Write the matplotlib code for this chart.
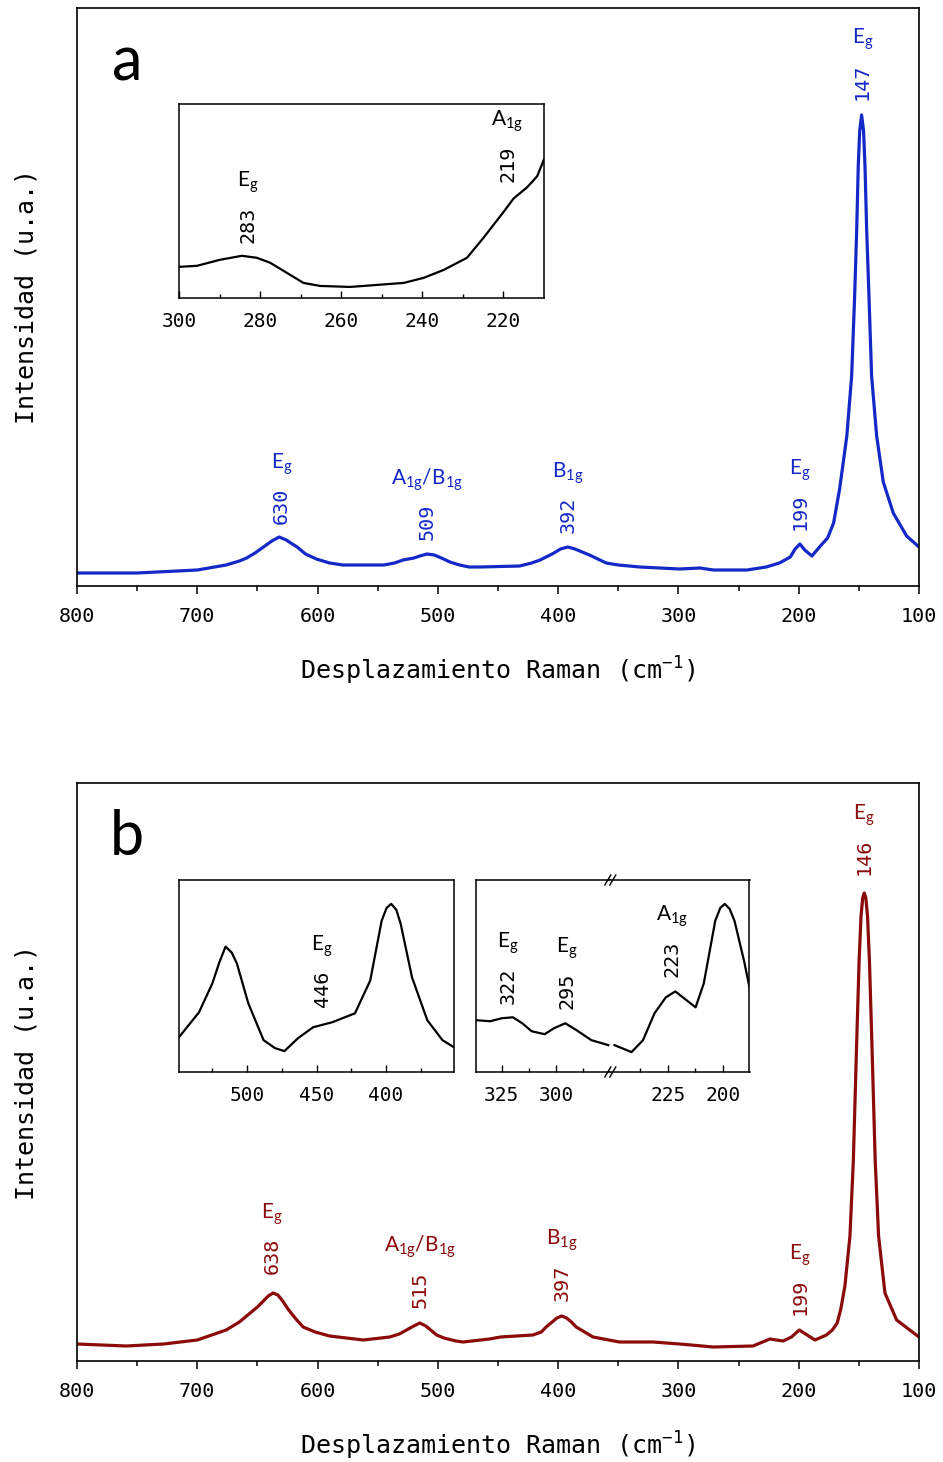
import numpy as np
import matplotlib
matplotlib.use("Agg")
import matplotlib.pyplot as plt
from matplotlib.lines import Line2D
from matplotlib.ticker import MultipleLocator, FixedLocator

BLUE = "#1428C8"
RED = "#8B0A0A"
MONO = "DejaVu Sans Mono"
SANS = "Lato"

# ---- panel a: main spectrum (Raman shift in cm-1, intensity in a.u.)
shift_a = [800, 750, 700, 676, 665, 659, 652, 645, 638, 632, 626, 621, 617, 610, 601,
           590, 579, 545, 536, 529, 520, 515, 509, 503, 497, 490, 482, 474, 465, 432,
           422, 415, 405, 398, 392, 386, 380, 374, 367, 360, 350, 332, 299, 282, 271,
           243, 227, 216, 207, 203, 199, 195, 189, 182, 176, 171, 166, 160, 156, 153.5,
           151.8, 150.5, 149.3, 147.7, 146.1, 144.9, 143.5, 141.6, 139.4, 135.2, 129.7,
           121.4, 110.3, 100]
int_a = [13, 13, 16, 21, 25, 28, 33, 39, 45, 49, 46, 42, 39, 32, 27,
         23, 21, 21, 23, 26, 28, 30, 32, 31, 28, 24, 21, 19, 19, 20,
         23, 26, 32, 37, 39, 37, 34, 31, 27, 23, 21, 19, 17, 18, 16,
         16, 19, 23, 29, 37, 42, 36, 30, 40, 48, 63, 97, 150, 210, 290,
         356, 420, 455, 471, 455, 420, 356, 290, 210, 150, 104,
         73, 50, 39]

# panel a inset (300-210 cm-1)
shift_a_in = [300, 295.6, 289.9, 284.5, 280.8, 277.5, 273.4, 269.3, 265.2, 257.8, 251.2,
              244.6, 239.7, 234.7, 229, 224.9, 219.9, 217.5, 214.2, 211.7, 210]
int_a_in = [31, 32, 38, 42, 40, 35, 25, 15, 12, 11, 13, 15, 20, 28, 40, 60, 86, 99, 110, 121, 138]

peaks_a = [630, 509, 392, 199, 147]
modes_a = [r"$\mathregular{E_g}$", r"$\mathregular{A_{1g}/B_{1g}}$", r"$\mathregular{B_{1g}}$",
           r"$\mathregular{E_g}$", r"$\mathregular{E_g}$"]
peaks_a_in = [283, 219]
modes_a_in = [r"$\mathregular{E_g}$", r"$\mathregular{A_{1g}}$"]

# ---- panel b: main spectrum
shift_b = [800, 759, 728, 700, 676, 665, 656, 650, 645, 641, 637, 633, 629, 624, 618,
           612, 602, 590, 562, 540, 532, 526, 520, 515, 510, 505, 501, 495, 485, 479,
           457, 448, 421, 414, 410, 405, 401, 397, 393, 389, 385, 378, 371, 349, 321,
           299, 271, 238, 224, 213, 206, 199.5, 193, 186.5, 177, 172, 168, 165, 161.6,
           157.4, 154.6, 151.9, 149.8, 148.2, 146.8, 145.5, 144.2, 142.8, 141.2, 139.1,
           136.4, 133.6, 128.3, 118.6, 100]
int_b = [17, 15, 17, 21, 31, 39, 48, 54, 60, 65, 68, 66, 60, 51, 42,
         34, 29, 25, 21, 24, 27, 31, 35, 38, 35, 30, 26, 23, 20, 19,
         22, 24, 26, 29, 34, 39, 43, 45, 43, 39, 34, 29, 24, 19, 19,
         17, 14, 15, 22, 20, 24, 31, 26, 21, 26, 31, 38, 52, 75,
         125, 200, 315, 400, 445, 463, 468, 463, 445, 400, 315,
         200, 125, 68, 41, 24]

# panel b inset 1 (550-350 cm-1)
shift_b_in1 = [549, 534.6, 525, 520, 515.5, 511, 507.3, 499.1, 488.1, 479.9, 473.1, 463.3, 452.4,
               438.7, 422.3, 411.3, 403.1, 399.5, 396.2, 392.5, 389.4, 381.2, 370.2, 359.3, 350]
int_b_in1 = [35, 60, 89, 110, 126, 120, 109, 69, 32, 24, 21, 34, 45,
             50, 59, 92, 152, 165, 169, 163, 149, 95, 52, 32, 24]

# panel b inset 2 (broken axis)
shift_b_in2_hi = [336.2, 330.2, 325, 319.8, 315.5, 311.2, 305.2, 300.9, 295.7, 290.5, 283.7, 275.9]
int_b_in2_hi = [52, 51, 54, 55, 49, 41, 38, 44, 49, 42, 32, 27]
shift_b_in2_lo = [249.1, 241.4, 236.2, 231.0, 225.9, 221.6, 216.4, 212.4, 208.7, 203.5, 201.2,
                  199.2, 197.0, 194.8, 190.5, 188]
int_b_in2_lo = [27, 20, 32, 59, 75, 81, 72, 65, 89, 152, 165, 169, 164, 152, 112, 85]

peaks_b = [638, 515, 397, 199, 146]
modes_b = [r"$\mathregular{E_g}$", r"$\mathregular{A_{1g}/B_{1g}}$", r"$\mathregular{B_{1g}}$",
           r"$\mathregular{E_g}$", r"$\mathregular{E_g}$"]
peaks_b_in1 = [446]
modes_b_in1 = [r"$\mathregular{E_g}$"]
peaks_b_in2 = [322, 295, 223]
modes_b_in2 = [r"$\mathregular{E_g}$", r"$\mathregular{E_g}$", r"$\mathregular{A_{1g}}$"]

W, H = 943, 1462


def box(x0, y0, x1, y1):
    # pixel box (top-left origin) -> figure fraction rect
    return [x0 / W, 1 - y1 / H, (x1 - x0) / W, (y1 - y0) / H]


def label(ax, xs, ys, peak, mode, color, off):
    y = np.interp(peak, xs[::-1], ys[::-1])
    num = ax.annotate(str(peak), xy=(peak, y), xytext=(0, off), textcoords="offset points",
                      rotation=90, ha="center", va="bottom", color=color,
                      fontsize=14.5, family=MONO)
    ax.annotate(mode, xy=(0.5, 1), xycoords=num, xytext=(0, 8), textcoords="offset points",
                ha="center", va="bottom", color=color, fontsize=15, family=SANS)


def main_axes(fig, rect, xs, ys, color, letter):
    ax = fig.add_axes(rect)
    ax.plot(xs, ys, color=color, lw=2.3, solid_joinstyle="round")
    ax.set_xlim(800, 100)
    ax.set_ylim(0, 578)
    ax.set_yticks([])
    ax.xaxis.set_major_locator(MultipleLocator(100))
    ax.xaxis.set_minor_locator(MultipleLocator(50))
    ax.tick_params(axis="x", which="major", direction="out", length=6, width=1.1,
                   pad=9, labelsize=14.5)
    ax.tick_params(axis="x", which="minor", direction="out", length=3.5, width=1.1)
    for lab in ax.get_xticklabels():
        lab.set_family(MONO)
    for s in ax.spines.values():
        s.set_linewidth(1.2)
    ax.set_xlabel("Desplazamiento Raman (cm$^{\\mathregular{-1}}$)", family=MONO,
                  fontsize=18, labelpad=21)
    ax.set_ylabel("Intensidad (u.a.)", family=MONO, fontsize=18, labelpad=28)
    ax.text(0.0594, 0.905, letter, transform=ax.transAxes, ha="center", va="center",
            fontsize=44, family=SANS)
    return ax


def inset_axes(fig, rect, xlim, major, minor):
    ax = fig.add_axes(rect)
    ax.set_xlim(*xlim)
    ax.set_ylim(0, 193)
    ax.set_yticks([])
    ax.xaxis.set_major_locator(FixedLocator(major))
    ax.xaxis.set_minor_locator(FixedLocator(minor))
    ax.tick_params(axis="x", which="major", direction="in", length=5, width=1.0,
                   pad=10, labelsize=14)
    ax.tick_params(axis="x", which="minor", direction="in", length=3, width=1.0)
    for lab in ax.get_xticklabels():
        lab.set_family(MONO)
    for s in ax.spines.values():
        s.set_linewidth(1.1)
    return ax


fig = plt.figure(figsize=(W / 100, H / 100), dpi=100, facecolor="white")

# ---- panel a
ax_a = main_axes(fig, box(77, 8, 919, 586), shift_a, int_a, BLUE, "a")
for p, m, off in zip(peaks_a, modes_a, [10, 10, 10, 10, 16]):
    label(ax_a, shift_a, int_a, p, m, BLUE, off)

ins_a = inset_axes(fig, box(179, 104, 544, 298), (300, 210),
                   [300, 280, 260, 240, 220], [290, 270, 250, 230])
ins_a.plot(shift_a_in, int_a_in, color="black", lw=1.6)
for p, m, off in zip(peaks_a_in, modes_a_in, [10, 18]):
    label(ins_a, shift_a_in, int_a_in, p, m, "black", off)

# ---- panel b
ax_b = main_axes(fig, box(77, 783, 919, 1361), shift_b, int_b, RED, "b")
for p, m, off in zip(peaks_b, modes_b, [14, 11, 11, 11, 14]):
    label(ax_b, shift_b, int_b, p, m, RED, off)

ins_b1 = inset_axes(fig, box(179, 880, 454, 1072), (549, 351),
                    [500, 450, 400], [525, 475, 425, 375])
ins_b1.plot(shift_b_in1, int_b_in1, color="black", lw=1.6)
for p, m in zip(peaks_b_in1, modes_b_in1):
    label(ins_b1, shift_b_in1, int_b_in1, p, m, "black", 13)

ins_hi = inset_axes(fig, box(475.5, 880, 610.3, 1072), (337, 275), [325, 300], [312.5, 287.5])
ins_lo = inset_axes(fig, box(610.3, 880, 749.5, 1072), (251, 188), [225, 200], [237.5, 212.5])
ins_hi.spines["right"].set_visible(False)
ins_lo.spines["left"].set_visible(False)
ins_hi.plot(shift_b_in2_hi, int_b_in2_hi, color="black", lw=1.6)
ins_lo.plot(shift_b_in2_lo, int_b_in2_lo, color="black", lw=1.6)
for p, m, off in zip(peaks_b_in2, modes_b_in2, [10, 11, 12]):
    if p > 260:
        label(ins_hi, shift_b_in2_hi, int_b_in2_hi, p, m, "black", off)
    else:
        label(ins_lo, shift_b_in2_lo, int_b_in2_lo, p, m, "black", off)

# break marks "//" on the top and bottom spines
for yb in (880, 1072):
    for dx in (-2.5, 2.5):
        xs = [(610.3 + dx - 3) / W, (610.3 + dx + 3) / W]
        ys = [1 - (yb + 5) / H, 1 - (yb - 5) / H]
        fig.add_artist(Line2D(xs, ys, transform=fig.transFigure, color="black", lw=1.0))

fig.savefig("out.png", dpi=100, facecolor="white")
